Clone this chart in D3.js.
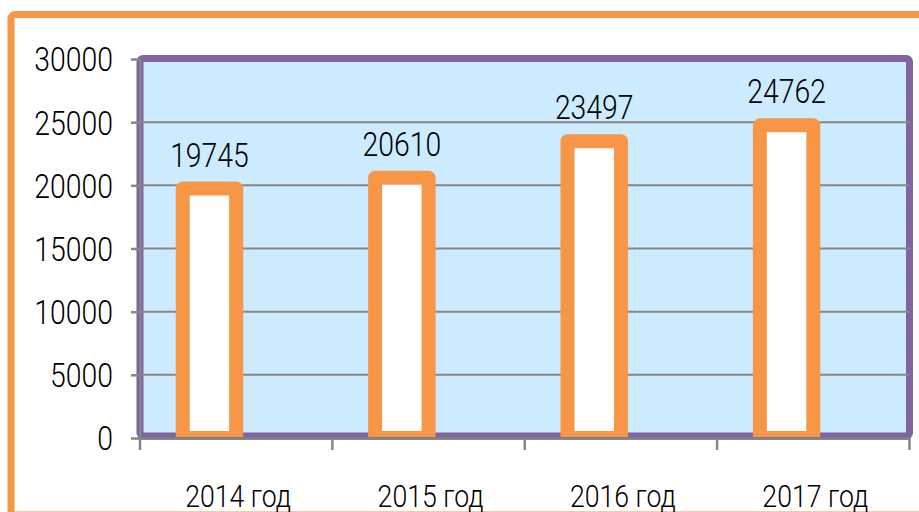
<!DOCTYPE html>
<html>
<head>
<meta charset="utf-8">
<script src="https://cdn.jsdelivr.net/npm/d3@7"></script>
<style>
  html, body { margin: 0; padding: 0; background: #fff; }
  svg { display: block; }
  text { font-family: Roboto, "Noto Sans", sans-serif; font-weight: 300; fill: #000; }
</style>
</head>
<body>
<div id="chart"></div>
<script>
// Yearly totals
const categories = ["2014 год", "2015 год", "2016 год", "2017 год"];
const values = [19745, 20610, 23497, 24762];
const yTicks = [0, 5000, 10000, 15000, 20000, 25000, 30000];

const W = 919, H = 512;
const orange = "#F79646", purple = "#8064A2", grid = "#868686", plotFill = "#CCEBFE";
const squeeze = 0.86; // narrow lettering

const svg = d3.select("#chart").append("svg")
  .attr("width", W).attr("height", H);

// outer frame
svg.append("rect")
  .attr("x", 11).attr("y", 14.5)
  .attr("width", 1000).attr("height", 500.5)
  .attr("rx", 4)
  .attr("fill", "#fff").attr("stroke", orange).attr("stroke-width", 7);

const plot = { left: 140, right: 909.5, top: 58.5, bottom: 438 };

const x = d3.scaleBand().domain(categories).range([plot.left, plot.right]);
const y = d3.scaleLinear().domain([0, 30000]).range([plot.bottom, 59]);
// two slots per category; the bar sits in the first one
const slot = d3.scaleBand().domain(["bar", "empty"])
  .range([0, x.bandwidth()]).paddingInner(0).paddingOuter(0.8);

// plot area background + border
svg.append("rect")
  .attr("x", plot.left).attr("y", plot.top)
  .attr("width", plot.right - plot.left).attr("height", 436 - plot.top)
  .attr("rx", 3)
  .attr("fill", plotFill).attr("stroke", purple).attr("stroke-width", 7);

// horizontal gridlines
svg.append("g").selectAll("line")
  .data(yTicks.filter(t => t > 0 && t < 30000))
  .join("line")
  .attr("x1", plot.left).attr("x2", plot.right)
  .attr("y1", d => y(d)).attr("y2", d => y(d))
  .attr("stroke", grid).attr("stroke-width", 2);

// bars
svg.append("clipPath").attr("id", "barClip")
  .append("rect").attr("x", 0).attr("y", 0).attr("width", W).attr("height", 437);

svg.append("g").attr("clip-path", "url(#barClip)")
  .selectAll("rect")
  .data(values)
  .join("rect")
  .attr("x", (d, i) => x(categories[i]) + slot("bar"))
  .attr("width", slot.bandwidth())
  .attr("y", d => y(d))
  .attr("height", d => y(0) - y(d))
  .attr("fill", "#fff")
  .attr("stroke", orange).attr("stroke-width", 14)
  .attr("stroke-linejoin", "round");

// value labels
svg.append("g").selectAll("text")
  .data(values)
  .join("text")
  .attr("transform", (d, i) =>
    `translate(${x(categories[i]) + slot("bar") + slot.bandwidth() / 2},${y(d) - 22}) scale(${squeeze},1)`)
  .attr("text-anchor", "middle")
  .attr("font-size", 33)
  .text(d => d);

// y axis
const yAxis = svg.append("g")
  .attr("transform", `translate(${plot.left},0)`)
  .call(d3.axisLeft(y).tickValues(yTicks).tickSize(9).tickSizeOuter(0).tickFormat(d3.format("d")));
yAxis.select(".domain").attr("stroke", grid).attr("stroke-width", 2.5);
yAxis.selectAll(".tick line").attr("stroke", grid).attr("stroke-width", 2.5);
yAxis.selectAll(".tick text")
  .attr("x", null).attr("dy", "0.36em")
  .attr("transform", `translate(-27,0) scale(${squeeze},1)`)
  .attr("font-size", 33)
  .attr("font-family", "Roboto")
  .attr("font-weight", 300)
  .attr("fill", "#000");

// x axis
const xAxis = svg.append("g");
xAxis.append("line")
  .attr("x1", plot.left).attr("x2", plot.right)
  .attr("y1", 438.7).attr("y2", 438.7)
  .attr("stroke", grid).attr("stroke-width", 2.5);
xAxis.selectAll("line.tick")
  .data([...categories.map(c => x(c)), plot.right])
  .join("line").attr("class", "tick")
  .attr("x1", d => d).attr("x2", d => d)
  .attr("y1", 438).attr("y2", 450)
  .attr("stroke", grid).attr("stroke-width", 2.5);
xAxis.selectAll("text")
  .data(categories)
  .join("text")
  .attr("transform", d => `translate(${x(d) + x.bandwidth() / 2 + 2},507) scale(${squeeze},1)`)
  .attr("text-anchor", "middle")
  .attr("font-size", 31)
  .text(d => d);
</script>
</body>
</html>
